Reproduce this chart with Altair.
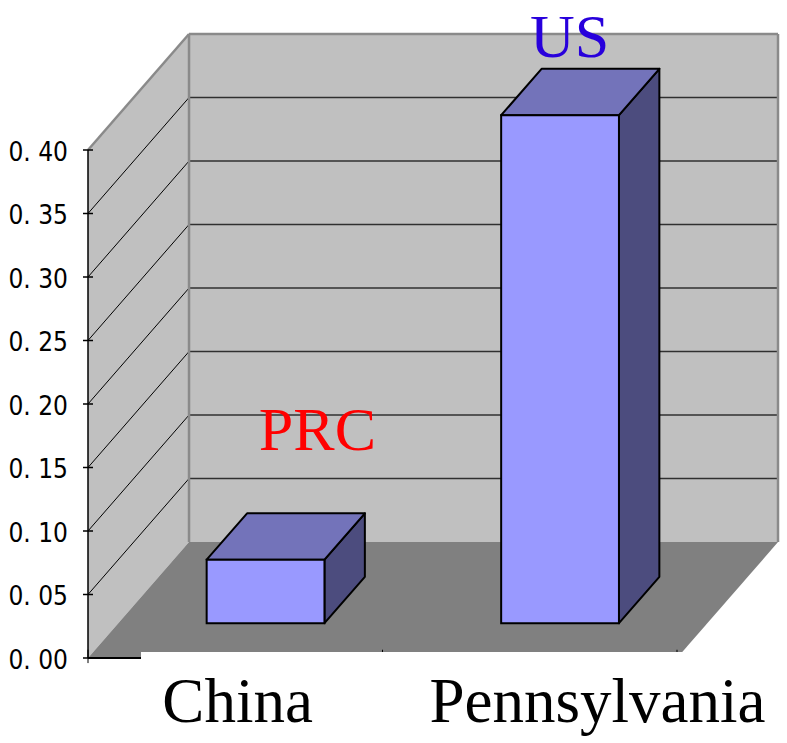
import altair as alt
import pandas as pd

# ---- data -------------------------------------------------------------
categories = ["China", "Pennsylvania"]
values = [0.05, 0.40]
callouts = ["PRC", "US"]
callout_colors = ["#FF0000", "#2800DC"]
tick_values = [0.00, 0.05, 0.10, 0.15, 0.20, 0.25, 0.30, 0.35, 0.40]
tick_labels = ["0. 00", "0. 05", "0. 10", "0. 15", "0. 20", "0. 25", "0. 30", "0. 35", "0. 40"]

# ---- 3-D projection / layout constants ---------------------------------
N = len(categories)
Y_MAX = tick_values[-1]
DX = 0.343          # horizontal shift (category slots) from front to back of the box
DY = 0.0913         # vertical shift (value units) from front to back of the box
BAR_W = 0.40        # bar width as a fraction of a category slot
D0, D1 = 0.30, 0.70 # bar depth range as a fraction of the box depth
X_SPAN = 2.3735     # visible slots across the plot width
Y_LO, Y_HI = -0.06693, 0.51811

# category label and callout anchors (slot, value)
cat_label_x = [0.508, 1.730]
cat_label_y = -0.0504
callout_x = [0.779, 1.635]
callout_y = [0.1638, 0.4735]

WALL = "#C0C0C0"
FLOOR = "#808080"
EDGE = "#8A8A8A"
FRONT = "#9999FF"
TOP = "#7373BA"
SIDE = "#4C4C7E"

xs = alt.Scale(domain=[0, X_SPAN], nice=False, zero=False)
ys = alt.Scale(domain=[Y_LO, Y_HI], nice=False, zero=False)


def X(f):
    return alt.X(f, type="quantitative", scale=xs, axis=None)


def Y(f):
    return alt.Y(f, type="quantitative", scale=ys, axis=None)


# ---- walls and floor ----------------------------------------------------
left_wall = pd.DataFrame({"x": [0, DX], "y": [Y_MAX, Y_MAX + DY], "y2": [0, DY]})
back_wall = pd.DataFrame({"x": [DX], "x2": [N + DX], "y": [DY], "y2": [Y_MAX + DY]})
floor = pd.DataFrame({"y": [0, DY], "x": [0, DX], "x2": [N, N + DX]})

grid_vals = tick_values[1:-1]
back_grid = pd.DataFrame({"x": DX, "x2": N + DX, "y": [t + DY for t in grid_vals]})
side_grid = pd.DataFrame({"x": 0.0, "x2": DX, "y": grid_vals, "y2": [t + DY for t in grid_vals]})

edges = pd.DataFrame({
    "x": [DX, DX, 0.0, N + DX],
    "x2": [DX, N + DX, DX, N + DX],
    "y": [DY, Y_MAX + DY, Y_MAX, DY],
    "y2": [Y_MAX + DY, Y_MAX + DY, Y_MAX + DY, Y_MAX + DY],
})

layers = [
    alt.Chart(left_wall).mark_area(color=WALL).encode(x=X("x"), y=Y("y"), y2=alt.Y2("y2")),
    alt.Chart(back_wall).mark_rect(color=WALL).encode(
        x=X("x"), x2=alt.X2("x2"), y=Y("y"), y2=alt.Y2("y2")),
    alt.Chart(back_grid).mark_rule(color="#303030", strokeWidth=1.4).encode(
        x=X("x"), x2=alt.X2("x2"), y=Y("y")),
    alt.Chart(side_grid).mark_rule(color="#000000", strokeWidth=1).encode(
        x=X("x"), x2=alt.X2("x2"), y=Y("y"), y2=alt.Y2("y2")),
    alt.Chart(floor).mark_area(orient="horizontal", color=FLOOR).encode(
        y=Y("y"), x=X("x"), x2=alt.X2("x2")),
    alt.Chart(edges).mark_rule(color=EDGE, strokeWidth=2.5).encode(
        x=X("x"), x2=alt.X2("x2"), y=Y("y"), y2=alt.Y2("y2")),
]

# ---- bars ---------------------------------------------------------------
front_rows, top_rows, side_rows = [], [], []
for i, (c, v) in enumerate(zip(categories, values)):
    left = i + 0.5 - BAR_W / 2
    right = left + BAR_W
    front_rows.append({"bar": c, "x": left + D0 * DX, "x2": right + D0 * DX,
                       "y": D0 * DY, "y2": v + D0 * DY})
    for d in (D0, D1):
        top_rows.append({"bar": c, "y": v + d * DY, "x": left + d * DX, "x2": right + d * DX})
        side_rows.append({"bar": c, "x": right + d * DX, "y": v + d * DY, "y2": d * DY})

layers += [
    alt.Chart(pd.DataFrame(side_rows)).mark_area(
        color=SIDE, stroke="#000000", strokeWidth=2, strokeJoin="round").encode(
        x=X("x"), y=Y("y"), y2=alt.Y2("y2"), detail="bar:N"),
    alt.Chart(pd.DataFrame(top_rows)).mark_area(
        orient="horizontal", color=TOP, stroke="#000000", strokeWidth=2, strokeJoin="round").encode(
        y=Y("y"), x=X("x"), x2=alt.X2("x2"), detail="bar:N"),
    alt.Chart(pd.DataFrame(front_rows)).mark_rect(
        color=FRONT, stroke="#000000", strokeWidth=2).encode(
        x=X("x"), x2=alt.X2("x2"), y=Y("y"), y2=alt.Y2("y2")),
]

# ---- axes ---------------------------------------------------------------
axis_df = pd.DataFrame({"x": [0.0], "y": [0.0], "y2": [Y_MAX]})
xaxis_df = pd.DataFrame({"x": [0.0], "x2": [float(N)], "y": [0.0]})
yticks = pd.DataFrame({"t": tick_values, "lab": tick_labels,
                       "x": -0.017, "x2": 0.017, "lx": -0.068})
xticks = pd.DataFrame({"x": [float(k) for k in range(N + 1)], "y": -0.004, "y2": 0.0065})

# white box behind the category names
label_box = pd.DataFrame({"bx": [0.18], "bx2": [2.1], "by": [Y_LO], "by2": [0.0047]})

layers += [
    alt.Chart(axis_df).mark_rule(color="#000000", strokeWidth=1.5).encode(
        x=X("x"), y=Y("y"), y2=alt.Y2("y2")),
    alt.Chart(yticks).mark_rule(color="#000000", strokeWidth=1.5).encode(
        x=X("x"), x2=alt.X2("x2"), y=Y("t")),
    alt.Chart(xaxis_df).mark_rule(color="#000000", strokeWidth=2).encode(
        x=X("x"), x2=alt.X2("x2"), y=Y("y")),
    alt.Chart(xticks).mark_rule(color="#000000", strokeWidth=1).encode(
        x=X("x"), y=Y("y"), y2=alt.Y2("y2")),
    alt.Chart(label_box).mark_rect(fill="#FFFFFF", stroke=None).encode(
        x=X("bx"), x2=alt.X2("bx2"), y=Y("by"), y2=alt.Y2("by2")),
    alt.Chart(yticks).mark_text(
        align="right", baseline="middle", dy=3, fontSize=26,
        font="DejaVu Sans Condensed, Liberation Sans Narrow, sans-serif",
        color="#000000").encode(x=X("lx"), y=Y("t"), text="lab:N"),
]

# ---- text ---------------------------------------------------------------
cat_df = pd.DataFrame({"name": categories, "x": cat_label_x, "y": cat_label_y})
call_df = pd.DataFrame({"name": callouts, "x": callout_x, "y": callout_y, "col": callout_colors})

layers += [
    alt.Chart(cat_df).mark_text(
        align="center", baseline="alphabetic", fontSize=63,
        font="Liberation Serif, Times New Roman, serif", color="#000000").encode(
        x=X("x"), y=Y("y"), text="name:N"),
    alt.Chart(call_df).mark_text(
        align="center", baseline="alphabetic", fontSize=62,
        font="Liberation Serif, Times New Roman, serif").encode(
        x=X("x"), y=Y("y"), text="name:N",
        color=alt.Color("col:N", scale=None)),
]

chart = alt.layer(*layers).properties(
    width=699,
    height=743,
    padding={"left": 88, "top": 0, "right": 0, "bottom": 0},
    autosize=alt.AutoSizeParams(type="none"),
    background="#FFFFFF",
).configure_view(stroke=None)

chart.save("out.html", embed_options={"renderer": "svg", "actions": False})
